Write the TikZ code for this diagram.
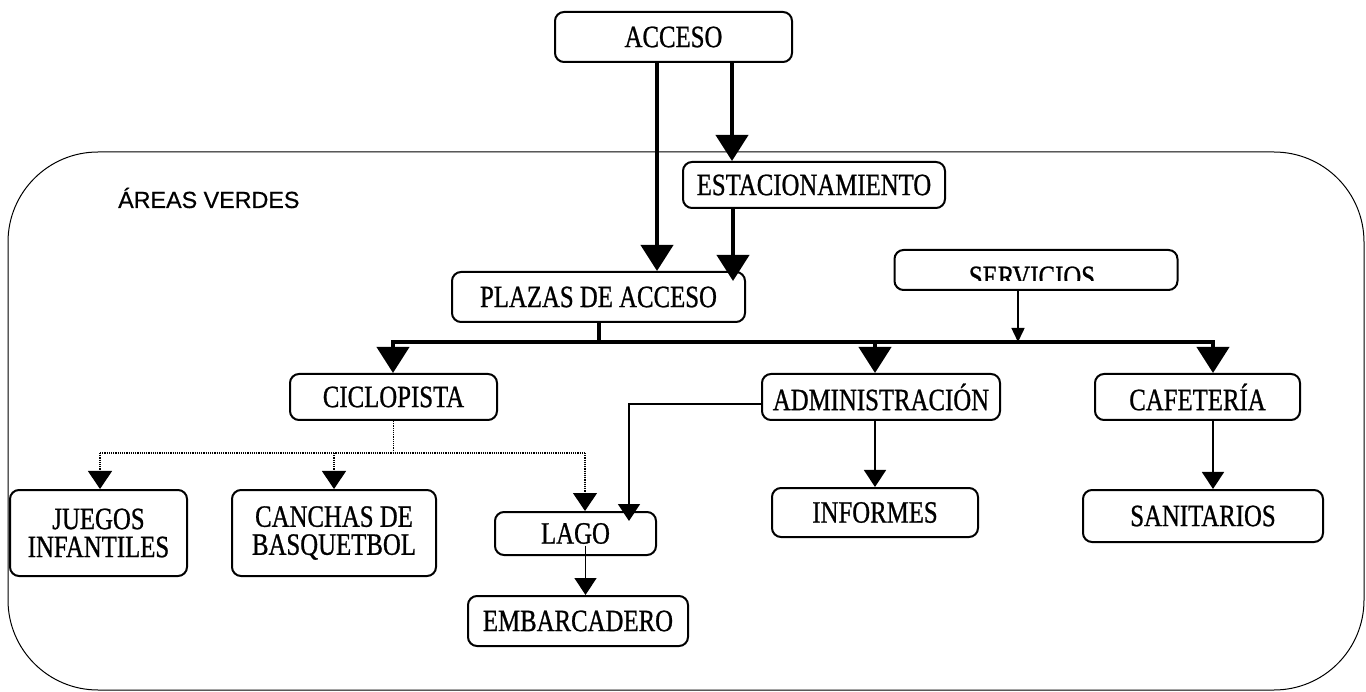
\documentclass[tikz,border=0pt]{standalone}
\usepackage{fontspec}
\setmainfont{Liberation Serif}
\newfontfamily\boxfont[FakeStretch=0.8,FakeBold=0.8]{Liberation Serif}
\newfontfamily\areafont[FakeBold=0.6]{Liberation Sans}
\usetikzlibrary{arrows.meta,calc}
\begin{document}
\begin{tikzpicture}[x=1pt,y=-1pt,
  box/.style={draw,line width=2pt,rounded corners=9pt,align=center,inner sep=0pt,
    font=\boxfont\fontsize{31}{28}\selectfont},
  thk/.style={line width=4pt},
  thn/.style={line width=1.5pt},
  dots/.style={line width=1.2pt,densely dotted},
  big/.style={-{Triangle[width=32pt,length=26pt]}},
  mid/.style={-{Triangle[width=22pt,length=17pt]}},
  dtip/.style={-{Triangle[width=24pt,length=18pt]}},
  small/.style={-{Triangle[width=13pt,length=14pt]}},
]
\useasboundingbox (0,0) rectangle (1366,692);
% outer area
\draw[line width=1pt,rounded corners=90pt] (8,152) rectangle (1364,690);
\node[anchor=base west,inner sep=0pt,font=\areafont\fontsize{23.3}{28}\selectfont] (areas) at (118,208) {ÁREAS VERDES};

% boxes
\node[box,minimum width=237pt,minimum height=50pt] (acceso) at (673.5,37) {ACCESO};
\node[box,minimum width=262pt,minimum height=46pt] (estac) at (814,185) {ESTACIONAMIENTO};
\node[box,minimum width=293pt,minimum height=50pt] (plazas) at (598.5,297) {PLAZAS DE ACCESO};
\node[box,minimum width=283pt,minimum height=40pt] (servicios) at (1036,270) {};
\begin{scope}
  \clip (896,250) rectangle (1176,281);
  \node[inner sep=0pt,font=\boxfont\fontsize{31}{28}\selectfont] (servtext) at (1032,277) {SERVICIOS};
\end{scope}
\node[box,minimum width=207pt,minimum height=46pt] (ciclo) at (393.5,397) {CICLOPISTA};
\node[box,minimum width=238pt,minimum height=46pt] (admin) at (881,397) {ADMINISTRACIÓN};
\node[box,minimum width=205pt,minimum height=46pt] (caf) at (1197.5,397) {CAFETERÍA};
\node[box,minimum width=177pt,minimum height=86pt] (juegos) at (98.5,533) {JUEGOS\\INFANTILES};
\node[box,minimum width=204pt,minimum height=86pt] (canchas) at (334,533) {CANCHAS DE\\BASQUETBOL};
\node[box,minimum width=161pt,minimum height=43pt] (lago) at (575.5,533.5) {LAGO};
\node[box,minimum width=220pt,minimum height=50pt] (embarc) at (578,621) {EMBARCADERO};
\node[box,minimum width=206pt,minimum height=49pt] (informes) at (875,512.5) {INFORMES};
\node[box,minimum width=240pt,minimum height=52pt] (sanit) at (1203,516) {SANITARIOS};

% access arrows
\draw[thk,big] ([xshift=-16.5pt]acceso.south) -- ([xshift=-16.5pt]acceso.south |- plazas.north);
\draw[thk,big] ([xshift=58.5pt]acceso.south) -- ([xshift=58.5pt]acceso.south |- estac.north);
\coordinate (pin) at ($(plazas.north east)+(-12,10)$);
\draw[thk,big] ([xshift=-81pt]estac.south) -- ([xshift=-81pt]estac.south |- pin);

% distribution bar
\coordinate (barL) at (393,342);
\coordinate (barR) at (1213,342);
\draw[thk] (plazas.south) -- (plazas.south |- barL);
\draw[thk] ([xshift=-2pt]barL) -- ([xshift=2pt]barR);
\draw[thk,big] (barL) -- (barL |- ciclo.north);
\draw[thk,big] (informes.north |- barL) -- (informes.north |- admin.north);
\draw[thk,big] (barR) -- (barR |- caf.north);
\draw[thn,small] ([xshift=-18pt]servicios.south) -- ([xshift=-18pt]servicios.south |- barL);

% dotted links from ciclopista
\coordinate (dL) at (100,453);
\coordinate (dR) at (585,453);
\draw[dots] (ciclo.south) -- (ciclo.south |- dL);
\draw[dots] (dL) -- (dR);
\draw[dots,dtip] (dL) -- (dL |- juegos.north);
\draw[dots,dtip] (canchas.north |- dL) -- (canchas.north);
\draw[dots,dtip] (dR) -- (dR |- lago.north);

% thin links
\coordinate (lin) at ($(lago.north east)+(-28,10)$);
\draw[thn,mid] ([yshift=-7pt]admin.west) -| (lin);
\coordinate (lgo) at ($(lago.center)+(10,12)$);
\draw[thn,mid] (lgo) -- (lgo |- embarc.north);
\draw[thn,mid] (informes.north |- admin.south) -- (informes.north);
\draw[thn,mid] (barR |- caf.south) -- (barR |- sanit.north);
\end{tikzpicture}
\end{document}
